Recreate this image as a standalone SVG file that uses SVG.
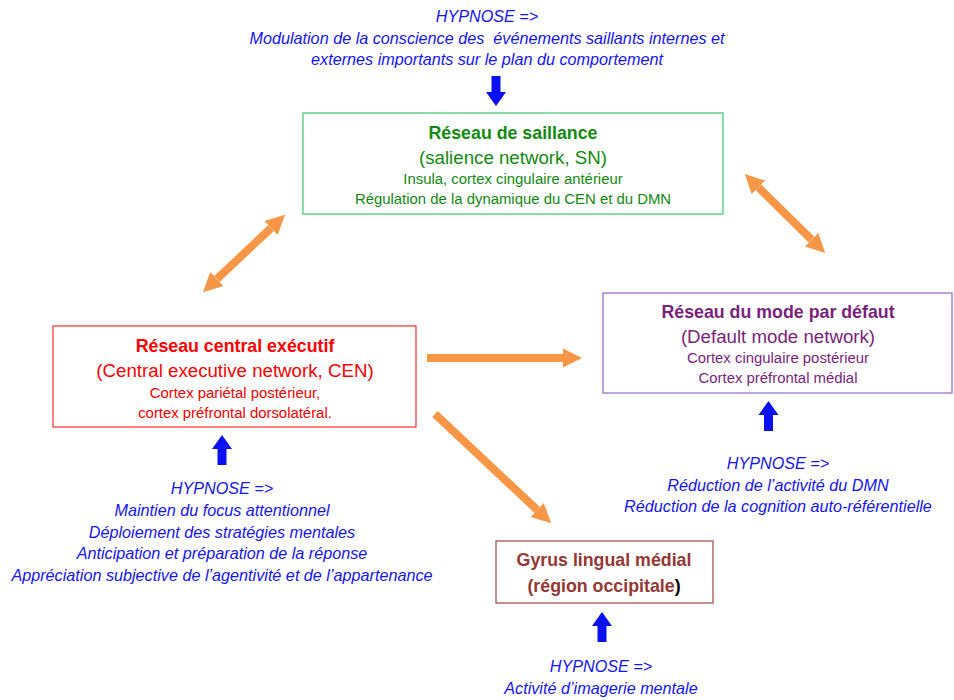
<svg xmlns="http://www.w3.org/2000/svg" width="954" height="700" viewBox="0 0 954 700">
<style>
text{font-family:"Liberation Sans",Arial,sans-serif;text-anchor:middle;white-space:pre}
.hyp{fill:#1414ff;font-style:italic;font-size:16.2px}
.box{fill:#fff;stroke-width:1.3}
.t{font-weight:bold;font-size:17.8px}
.s{font-size:18.7px}
.d{font-size:14.9px}
.orange{stroke:#f79646;stroke-width:8;fill:none}
.blue{fill:#0a10f0}
</style>
<defs>
<marker id="oh" viewBox="0 0 10 10" refX="0" refY="5" markerWidth="2.4" markerHeight="2.6" markerUnits="strokeWidth" orient="auto-start-reverse">
<path d="M0,0 L10,5 L0,10 z" fill="#f79646"/>
</marker>
<path id="up" d="M0,0 L10,14 L4.5,14 L4.5,30 L-4.5,30 L-4.5,14 L-10,14 z"/>
</defs>

<g id="hyp-top">
<text class="hyp" x="487" y="22">HYPNOSE =&gt;</text>
<text class="hyp" x="487" y="44" xml:space="preserve">Modulation de la conscience des  événements saillants internes et</text>
<text class="hyp" x="487" y="65">externes importants sur le plan du comportement</text>
</g>

<g id="sn">
<rect class="box" x="303" y="113" width="420" height="101" stroke="#4ccc7a"/>
<text class="t" x="513" y="139" fill="#128a12">Réseau de saillance</text>
<text class="s" x="513" y="164" fill="#128a12">(salience network, SN)</text>
<text class="d" x="513" y="184" fill="#128a12">Insula, cortex cingulaire antérieur</text>
<text class="d" x="513" y="204" fill="#128a12">Régulation de la dynamique du CEN et du DMN</text>
</g>

<g id="cen">
<rect class="box" x="53" y="326" width="363" height="101" stroke="#ff3b3b"/>
<text class="t" x="235" y="352" fill="#ff0000">Réseau central exécutif</text>
<text class="s" x="235" y="377" fill="#ff0000">(Central executive network, CEN)</text>
<text class="d" x="235" y="398" fill="#ff0000">Cortex pariétal postérieur,</text>
<text class="d" x="235" y="418" fill="#ff0000">cortex préfrontal dorsolatéral.</text>
</g>

<g id="dmn">
<rect class="box" x="603" y="293" width="349" height="100" stroke="#9b6fd0"/>
<text class="t" x="778" y="318" fill="#7a1f7e">Réseau du mode par défaut</text>
<text class="s" x="778" y="343" fill="#7a1f7e">(Default mode network)</text>
<text class="d" x="778" y="363" fill="#7a1f7e">Cortex cingulaire postérieur</text>
<text class="d" x="778" y="383" fill="#7a1f7e">Cortex préfrontal médial</text>
</g>

<g id="gyrus">
<rect class="box" x="496" y="541" width="217" height="62" stroke="#a85454"/>
<text class="t" x="604" y="566" fill="#953735">Gyrus lingual médial</text>
<text class="t" x="604" y="592" fill="#953735">(région occipitale<tspan fill="#000">)</tspan></text>
</g>

<g id="hyp-cen">
<text class="hyp" x="222" y="494">HYPNOSE =&gt;</text>
<text class="hyp" x="222" y="516">Maintien du focus attentionnel</text>
<text class="hyp" x="222" y="538">Déploiement des stratégies mentales</text>
<text class="hyp" x="222" y="559">Anticipation et préparation de la réponse</text>
<text class="hyp" x="222" y="581">Appréciation subjective de l’agentivité et de l’appartenance</text>
</g>

<g id="hyp-dmn">
<text class="hyp" x="778" y="469">HYPNOSE =&gt;</text>
<text class="hyp" x="778" y="491">Réduction de l’activité du DMN</text>
<text class="hyp" x="778" y="512">Réduction de la cognition auto-référentielle</text>
</g>

<g id="hyp-gyrus">
<text class="hyp" x="601" y="672">HYPNOSE =&gt;</text>
<text class="hyp" x="601" y="694">Activité d’imagerie mentale</text>
</g>

<g id="connectors">
<line class="orange" x1="216.9" y1="279" x2="271.1" y2="228" marker-start="url(#oh)" marker-end="url(#oh)"/>
<line class="orange" x1="758.5" y1="187.4" x2="811.5" y2="239.6" marker-start="url(#oh)" marker-end="url(#oh)"/>
<line class="orange" x1="427" y1="358" x2="563" y2="358" marker-end="url(#oh)"/>
<line class="orange" x1="435" y1="414" x2="537.2" y2="510" marker-end="url(#oh)"/>
<use href="#up" class="blue" transform="translate(496,106) rotate(180)"/>
<use href="#up" class="blue" transform="translate(222,435)"/>
<use href="#up" class="blue" transform="translate(768.5,401)"/>
<use href="#up" class="blue" transform="translate(602,612)"/>
</g>
</svg>
